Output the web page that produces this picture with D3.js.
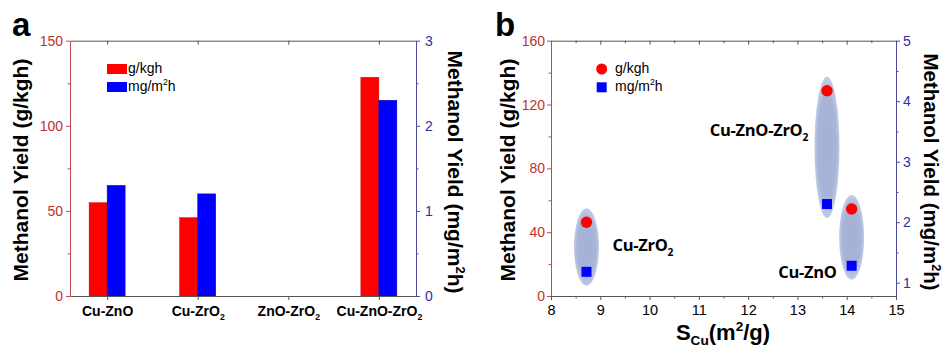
<!DOCTYPE html>
<html>
<head>
<meta charset="utf-8">
<script src="https://cdn.jsdelivr.net/npm/d3@7"></script>
<style>
  body { margin: 0; background: #fff; }
  svg { display: block; }
</style>
</head>
<body>
<svg id="chart" width="945" height="348"></svg>
<script>
// panel a data
const catsA = ['Cu-ZnO', 'Cu-ZrO_{2}', 'ZnO-ZrO_{2}', 'Cu-ZnO-ZrO_{2}'];
const massYieldA = [54.8, 46, 0, 128.5]; // g/kgh
const areaYieldA = [1.3, 1.2, 0, 2.3]; // mg/m2h
const leftTicksA = [0, 50, 100, 150];
const leftMinorA = [25, 75, 125];
const rightTicksA = [0, 1, 2, 3];
const rightMinorA = [0.5, 1.5, 2.5];

// panel b data
const samplesB = ['Cu-ZrO_{2}', 'Cu-ZnO-ZrO_{2}', 'Cu-ZnO'];
const surfaceCuB = [8.72, 13.6, 14.1]; // m2/g
const massYieldB = [46.2, 128.6, 54.5];
const areaYieldB = [1.18, 2.3, 1.28];
const xTicksB = [8, 9, 10, 11, 12, 13, 14, 15];
const xMinorB = [8.5, 9.5, 10.5, 11.5, 12.5, 13.5, 14.5];
const leftTicksB = [0, 40, 80, 120, 160];
const leftMinorB = [20, 60, 100, 140];
const rightTicksB = [1, 2, 3, 4, 5];
const rightMinorB = [1.5, 2.5, 3.5, 4.5];

const RED = '#ff0000', BLUE = '#0000ff';
const RED_AX = '#c24a4a', BLUE_AX = '#4a4a96';
const RED_TXT = '#c0302f', BLUE_TXT = '#2f2fa0';
const FONT = '"Liberation Sans", Arial, sans-serif';

const svg = d3.select('#chart');

// text with _{sub} and ^{sup} parts
function rich(text, str, size, subShift = 0.3) {
  const parts = str.split(/([_^]\{[^}]*\})/).filter((p) => p);
  let shift = 0;
  parts.forEach((p) => {
    let target = 0, s = p, fs = size;
    if (p[0] === '_') { target = subShift * size; s = p.slice(2, -1); fs = size * 0.62; }
    if (p[0] === '^') { target = -0.42 * size; s = p.slice(2, -1); fs = size * 0.62; }
    const ts = text.append('tspan').attr('font-size', fs).text(s);
    if (target !== shift) ts.attr('dy', target - shift);
    shift = target;
  });
}

function axis(axisFn, scale, tx, ty, o) {
  const sign = o.inner ? -1 : 1;
  if (o.minor) {
    const gm = svg.append('g')
      .attr('transform', `translate(${tx},${ty})`)
      .call(axisFn(scale).tickValues(o.minor).tickSize(sign * 2.5).tickFormat(''));
    gm.select('.domain').remove();
    gm.selectAll('line').attr('stroke', o.color);
  }
  const g = svg.append('g')
    .attr('transform', `translate(${tx},${ty})`)
    .call(axisFn(scale).tickValues(o.major).tickSizeInner(sign * 4).tickSizeOuter(0)
      .tickPadding(o.pad || 3).tickFormat(o.labels ? (d) => d : ''));
  g.select('.domain').attr('stroke', o.color);
  g.selectAll('.tick line').attr('stroke', o.color);
  g.attr('font-family', FONT).attr('font-size', o.size || 14);
  g.selectAll('text').attr('fill', o.textColor || '#000');
  return g;
}

function title(x, y, rot, str, size) {
  const t = svg.append('text')
    .attr('transform', `translate(${x},${y}) rotate(${rot})`)
    .attr('text-anchor', 'middle').attr('dy', '0.35em')
    .attr('font-family', FONT).attr('font-weight', 'bold').attr('font-size', size);
  rich(t, str, size);
}

// ---------- panel a ----------
const xA = d3.scalePoint().domain(catsA).range([70, 416]).padding(0.41);
const subA = d3.scaleBand().domain(['mass', 'area']).range([-18, 18]);
const yLA = d3.scaleLinear().domain([0, 150]).range([296, 40.7]);
const yRA = d3.scaleLinear().domain([0, 3]).range([296, 40.7]);

const barsA = catsA.map((c, i) => ({ c, mass: massYieldA[i], area: areaYieldA[i] }));
svg.append('g').selectAll('rect.m').data(barsA).join('rect')
  .attr('x', (d) => xA(d.c) + subA('mass'))
  .attr('y', (d) => yLA(d.mass))
  .attr('width', subA.bandwidth())
  .attr('height', (d) => yLA(0) - yLA(d.mass))
  .attr('fill', RED).attr('stroke', '#d00000').attr('stroke-width', 0.5);
svg.append('g').selectAll('rect.a').data(barsA).join('rect')
  .attr('x', (d) => xA(d.c) + subA('area'))
  .attr('y', (d) => yRA(d.area))
  .attr('width', subA.bandwidth())
  .attr('height', (d) => yRA(0) - yRA(d.area))
  .attr('fill', BLUE).attr('stroke', '#0000c8').attr('stroke-width', 0.5);

axis(d3.axisTop, xA, 0, 40.7, { major: catsA, color: '#555', inner: true });
const gxA = axis(d3.axisBottom, xA, 0, 296, { major: catsA, color: '#555', labels: true, pad: 6 });
gxA.selectAll('.tick text').attr('font-weight', 'bold').each(function (d) {
  const t = d3.select(this).text('');
  rich(t, d, 14);
});
axis(d3.axisLeft, yLA, 70, 0, { major: leftTicksA, minor: leftMinorA, color: RED_AX, textColor: RED_TXT, labels: true });
axis(d3.axisRight, yRA, 416, 0, { major: rightTicksA, minor: rightMinorA, color: BLUE_AX, textColor: BLUE_TXT, labels: true, pad: 5 });

title(21, 170, -90, 'Methanol Yield (g/kgh)', 21);
title(455, 172, 90, 'Methanol Yield (mg/m^{2}h)', 21);
svg.append('text').attr('x', 12).attr('y', 36).attr('font-family', FONT)
  .attr('font-weight', 'bold').attr('font-size', 33).text('a');

// legend a
const legA = [{ label: 'g/kgh', color: RED }, { label: 'mg/m^{2}h', color: BLUE }];
legA.forEach((d, i) => {
  const y = 64 + i * 18;
  svg.append('rect').attr('x', 107).attr('y', y).attr('width', 20).attr('height', 10).attr('fill', d.color);
  const t = svg.append('text').attr('x', 128).attr('y', y + 9)
    .attr('font-family', FONT).attr('font-size', 14);
  rich(t, d.label, 14);
});

// ---------- panel b ----------
const xB = d3.scaleLinear().domain([8, 15]).range([551, 896]);
const yLB = d3.scaleLinear().domain([0, 160]).range([296, 40.7]);
const yRB = d3.scaleLinear().domain([0.78, 5]).range([296, 40.7]);

const defs = svg.append('defs');
const grad = defs.append('radialGradient').attr('id', 'blob');
grad.append('stop').attr('offset', '0%').attr('stop-color', '#a2b0d5');
grad.append('stop').attr('offset', '75%').attr('stop-color', '#a8b5d8');
grad.append('stop').attr('offset', '100%').attr('stop-color', '#c3cce5');

const ptsB = samplesB.map((s, i) => ({
  s, x: surfaceCuB[i], mass: massYieldB[i], area: areaYieldB[i],
}));
svg.append('g').selectAll('ellipse').data(ptsB).join('ellipse')
  .attr('cx', (d) => xB(d.x))
  .attr('cy', (d) => (yLB(d.mass) + yRB(d.area)) / 2)
  .attr('rx', 12.5)
  .attr('ry', (d) => Math.abs(yRB(d.area) - yLB(d.mass)) / 2 + 14)
  .attr('fill', 'url(#blob)');
svg.append('g').selectAll('circle').data(ptsB).join('circle')
  .attr('cx', (d) => xB(d.x)).attr('cy', (d) => yLB(d.mass)).attr('r', 5.7).attr('fill', RED);
svg.append('g').selectAll('rect').data(ptsB).join('rect')
  .attr('x', (d) => xB(d.x) - 5).attr('y', (d) => yRB(d.area) - 5)
  .attr('width', 10).attr('height', 10).attr('fill', BLUE);

// sample labels, placed next to their blobs
const labelOffsets = [
  { dx: 26, anchor: 'start', at: (d) => (yLB(d.mass) + yRB(d.area)) / 2 + 4 },
  { dx: -19, anchor: 'end', at: (d) => yLB(d.mass) + 45 },
  { dx: -15, anchor: 'end', at: (d) => yRB(d.area) + 12 },
];
ptsB.forEach((d, i) => {
  const o = labelOffsets[i];
  const t = svg.append('text').attr('x', xB(d.x) + o.dx).attr('y', o.at(d))
    .attr('text-anchor', o.anchor).attr('font-family', '"Open Sans", sans-serif')
    .attr('font-weight', 'bold').attr('font-size', 16.5).attr('letter-spacing', -0.3);
  rich(t, d.s, 16.5);
});

axis(d3.axisTop, xB, 0, 40.7, { major: xTicksB, minor: xMinorB, color: '#555', inner: true });
axis(d3.axisBottom, xB, 0, 296, { major: xTicksB, minor: xMinorB, color: '#555', labels: true, pad: 5, size: 14.5 });
axis(d3.axisLeft, yLB, 551, 0, { major: leftTicksB, minor: leftMinorB, color: RED_AX, textColor: RED_TXT, labels: true, pad: 2 });
axis(d3.axisRight, yRB, 896, 0, { major: rightTicksB, minor: rightMinorB, color: BLUE_AX, textColor: BLUE_TXT, labels: true });

title(508, 170, -90, 'Methanol Yield (g/kgh)', 21);
title(931, 172, 90, 'Methanol Yield (mg/m^{2}h)', 20.5);
const xt = svg.append('text').attr('x', 723).attr('y', 340).attr('text-anchor', 'middle')
  .attr('font-family', FONT).attr('font-weight', 'bold').attr('font-size', 22);
rich(xt, 'S_{Cu}(m^{2}/g)', 22, 0.22);
svg.append('text').attr('x', 495).attr('y', 36).attr('font-family', FONT)
  .attr('font-weight', 'bold').attr('font-size', 33).text('b');

// legend b
svg.append('circle').attr('cx', 601.7).attr('cy', 69).attr('r', 5.5).attr('fill', RED);
svg.append('rect').attr('x', 596.7).attr('y', 82.3).attr('width', 10).attr('height', 10).attr('fill', BLUE);
const legB = ['g/kgh', 'mg/m^{2}h'];
legB.forEach((s, i) => {
  const t = svg.append('text').attr('x', 615).attr('y', 73 + i * 18.3)
    .attr('font-family', FONT).attr('font-size', 14);
  rich(t, s, 14);
});
</script>
</body>
</html>
